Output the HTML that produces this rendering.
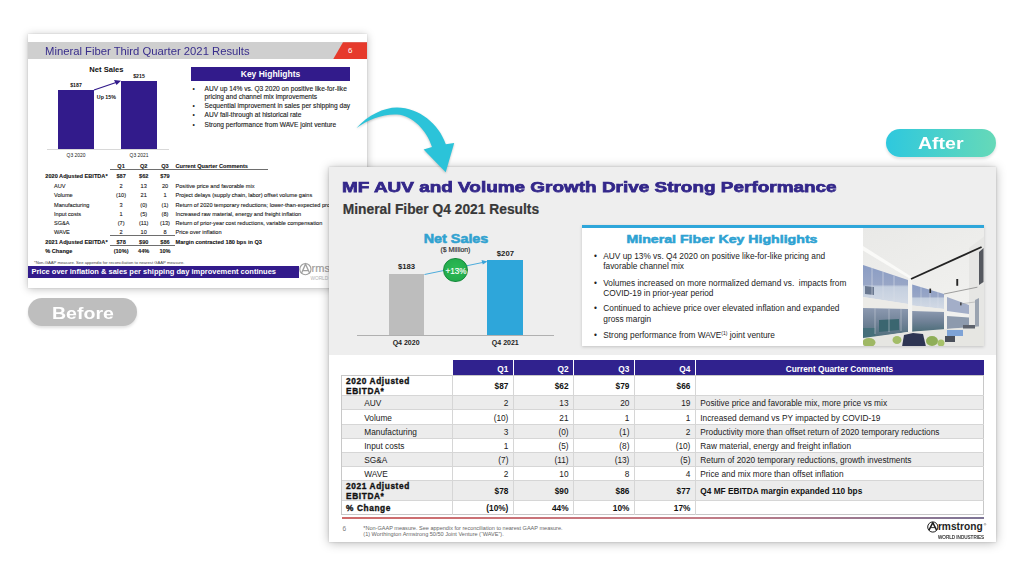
<!DOCTYPE html>
<html><head><meta charset="utf-8">
<style>
*{margin:0;padding:0;box-sizing:border-box}
html,body{width:1024px;height:576px;overflow:hidden;background:#fff;font-family:"Liberation Sans",sans-serif}
.abs{position:absolute}
#Lbg{left:28px;top:33.7px;width:339px;height:254.1px;background:#fff;box-shadow:0 0 1.5px rgba(0,0,0,.12),0 1px 8px rgba(0,0,0,.26)}
#L{left:28px;top:33px;width:339px;height:255px}
#R{left:328.6px;top:167.1px;width:667.2px;height:374.6px;background:#fff;box-shadow:0 0 2px rgba(0,0,0,.18),0 1px 10px rgba(0,0,0,.28)}
.t{position:absolute;white-space:nowrap;line-height:1}
.hl{position:absolute;left:164.5px;font-size:6.6px;line-height:1;color:#1a1a1a}
.hl2{position:absolute;left:176.6px;font-size:6.6px;line-height:1;color:#1a1a1a;white-space:nowrap;-webkit-text-stroke:0.12px #1a1a1a}
.tb{font-size:5.6px;color:#1a1a1a;-webkit-text-stroke:0.1px #1a1a1a}
.b{font-weight:bold;color:#111}
.rh{position:absolute;white-space:nowrap;line-height:1;font-size:8.3px;color:#222}
.rh sup{font-size:5px;vertical-align:3px;line-height:0}
.rt{position:absolute;white-space:nowrap;line-height:1;font-size:8.3px;color:#1a1a1a}
.rt0{position:absolute;white-space:nowrap;line-height:1;font-size:8.3px;color:#1a1a1a}
.rb{position:absolute;white-space:nowrap;line-height:1;font-size:8.3px;font-weight:bold;color:#111;letter-spacing:0.6px;-webkit-text-stroke:0.35px #111}
.b2{font-weight:bold;color:#111}
.w{color:#fff;font-weight:bold}
.lt{position:absolute;white-space:nowrap;line-height:1;font-size:5.6px;color:#1a1a1a;transform:translateX(-50%);-webkit-text-stroke:0.1px #1a1a1a}
</style></head><body>

<!-- LEFT (before) slide -->
<div id="Lbg" class="abs"></div>
<div id="L" class="abs">
  <div class="abs" style="left:0;top:9.2px;width:339px;height:17.2px;background:#cfcfcf"></div>
  <div class="abs" style="left:305px;top:9.2px;width:34px;height:17.2px;background:#e63a2c;clip-path:polygon(10px 0,100% 0,100% 100%,0 100%)"></div>
  <div class="t" style="left:16.7px;top:12.6px;font-size:11.5px;color:#382d8c;transform:scaleX(0.98);transform-origin:0 0">Mineral Fiber Third Quarter 2021 Results</div>
  <div class="t" style="left:320px;top:14px;font-size:7.9px;color:#fff">6</div>

  <!-- chart -->
  <div class="t" style="left:78.4px;top:32.8px;font-size:7.6px;font-weight:bold;color:#111;transform:translateX(-50%)">Net Sales</div>
  <div class="abs" style="left:18.5px;top:115.5px;width:122.5px;height:0.8px;background:#d8d8d8"></div>
  <div class="abs" style="left:30.3px;top:56.5px;width:35.6px;height:59px;background:#321b8b"></div>
  <div class="abs" style="left:93.1px;top:47.5px;width:35.6px;height:68px;background:#321b8b"></div>
  <div class="t" style="left:48px;top:49.7px;font-size:5.2px;font-weight:bold;color:#111;transform:translateX(-50%)">$187</div>
  <div class="t" style="left:111px;top:41.3px;font-size:5.2px;font-weight:bold;color:#111;transform:translateX(-50%)">$215</div>
  <div class="t" style="left:78.4px;top:62px;font-size:5.3px;font-weight:bold;color:#111;transform:translateX(-50%)">Up 15%</div>
  <svg class="abs" style="left:0;top:0" width="339" height="255"><line x1="66" y1="57" x2="88" y2="49.5" stroke="#321b8b" stroke-width="1.3"/><polygon points="93,47.8 86,47 88.5,52" fill="#321b8b"/></svg>
  <div class="t" style="left:48px;top:120.6px;font-size:4.9px;color:#222;transform:translateX(-50%)">Q3 2020</div>
  <div class="t" style="left:111px;top:120.6px;font-size:4.9px;color:#222;transform:translateX(-50%)">Q3 2021</div>
  <!-- highlights -->
  <div class="abs" style="left:163.4px;top:34px;width:158.2px;height:13.7px;background:#321b8b"></div>
  <div class="t" style="left:242.5px;top:37.3px;font-size:8.5px;font-weight:bold;color:#fff;transform:translateX(-50%)">Key Highlights</div>
  <div class="hl" style="top:52.6px">&bull;</div><div class="hl2" style="top:52.6px">AUV up 14% vs. Q3 2020 on positive like-for-like</div>
  <div class="hl2" style="top:60.5px">pricing and channel mix improvements</div>
  <div class="hl" style="top:69.8px">&bull;</div><div class="hl2" style="top:69.8px">Sequential improvement in sales per shipping day</div>
  <div class="hl" style="top:79.3px">&bull;</div><div class="hl2" style="top:79.3px">AUV fall-through at historical rate</div>
  <div class="hl" style="top:88.6px">&bull;</div><div class="hl2" style="top:88.6px">Strong performance from WAVE joint venture</div>
  <!-- table -->
  <div class="abs" style="left:82.2px;top:136px;width:158.3px;height:0.7px;background:#6e6e6e"></div>
  <div class="abs" style="left:82.2px;top:202px;width:64.8px;height:0.7px;background:#6e6e6e"></div>
  <div class="abs" style="left:82.2px;top:211.8px;width:64.8px;height:0.7px;background:#6e6e6e"></div>
  <div class="lt b" style="left:93.1px;top:131.3px">Q1</div><div class="lt b" style="left:115.7px;top:131.3px">Q2</div><div class="lt b" style="left:137px;top:131.3px">Q3</div>
  <div class="t tb b" style="left:147.5px;top:131.3px">Current Quarter Comments</div>
  <div class="t tb b" style="left:17.3px;top:140.8px">2020 Adjusted EBITDA*</div>
  <div class="lt b" style="left:93.1px;top:140.8px">$87</div>
  <div class="lt b" style="left:115.7px;top:140.8px">$62</div>
  <div class="lt b" style="left:137px;top:140.8px">$79</div>
  <div class="t tb" style="left:26px;top:150.9px">AUV</div>
  <div class="lt" style="left:93.1px;top:150.9px">2</div>
  <div class="lt" style="left:115.7px;top:150.9px">13</div>
  <div class="lt" style="left:137px;top:150.9px">20</div>
  <div class="t tb" style="left:147.5px;top:150.9px">Positive price and favorable mix</div>
  <div class="t tb" style="left:26px;top:160.3px">Volume</div>
  <div class="lt" style="left:93.1px;top:160.3px">(10)</div>
  <div class="lt" style="left:115.7px;top:160.3px">21</div>
  <div class="lt" style="left:137px;top:160.3px">1</div>
  <div class="t tb" style="left:147.5px;top:160.3px">Project delays (supply chain, labor) offset volume gains</div>
  <div class="t tb" style="left:26px;top:169.5px">Manufacturing</div>
  <div class="lt" style="left:93.1px;top:169.5px">3</div>
  <div class="lt" style="left:115.7px;top:169.5px">(0)</div>
  <div class="lt" style="left:137px;top:169.5px">(1)</div>
  <div class="t tb" style="left:147.5px;top:169.5px">Return of 2020 temporary reductions; lower-than-expected productivity</div>
  <div class="t tb" style="left:26px;top:179.0px">Input costs</div>
  <div class="lt" style="left:93.1px;top:179.0px">1</div>
  <div class="lt" style="left:115.7px;top:179.0px">(5)</div>
  <div class="lt" style="left:137px;top:179.0px">(8)</div>
  <div class="t tb" style="left:147.5px;top:179.0px">Increased raw material, energy and freight inflation</div>
  <div class="t tb" style="left:26px;top:188.0px">SG&amp;A</div>
  <div class="lt" style="left:93.1px;top:188.0px">(7)</div>
  <div class="lt" style="left:115.7px;top:188.0px">(11)</div>
  <div class="lt" style="left:137px;top:188.0px">(13)</div>
  <div class="t tb" style="left:147.5px;top:188.0px">Return of prior-year cost reductions, variable compensation</div>
  <div class="t tb" style="left:26px;top:197.3px">WAVE</div>
  <div class="lt" style="left:93.1px;top:197.3px">2</div>
  <div class="lt" style="left:115.7px;top:197.3px">10</div>
  <div class="lt" style="left:137px;top:197.3px">8</div>
  <div class="t tb" style="left:147.5px;top:197.3px">Price over inflation</div>
  <div class="t tb b" style="left:17.3px;top:206.8px">2021 Adjusted EBITDA*</div>
  <div class="lt b" style="left:93.1px;top:206.8px">$78</div>
  <div class="lt b" style="left:115.7px;top:206.8px">$90</div>
  <div class="lt b" style="left:137px;top:206.8px">$86</div>
  <div class="t tb b" style="left:147.5px;top:206.8px">Margin contracted 180 bps in Q3</div>
  <div class="t tb b" style="left:17.3px;top:215.8px">% Change</div>
  <div class="lt b" style="left:93.1px;top:215.8px">(10%)</div>
  <div class="lt b" style="left:115.7px;top:215.8px">44%</div>
  <div class="lt b" style="left:137px;top:215.8px">10%</div>
  <div class="t" style="left:6px;top:227.6px;font-size:4.2px;color:#444">*Non-GAAP measure. See appendix for reconciliation to nearest GAAP measure.</div>
  <div class="abs" style="left:0;top:232.6px;width:271px;height:12.2px;background:#321b8b"></div>
  <div class="t" style="left:3.4px;top:234.5px;font-size:7.5px;font-weight:bold;color:#fff">Price over inflation &amp; sales per shipping day improvement continues</div>
  <svg class="abs" style="left:0;top:0" width="339" height="255"><circle cx="277.4" cy="236.2" r="5.6" fill="none" stroke="#a0a0a0" stroke-width="1.1"/><path d="M273.4,240.6 L277.5,231.2 L281.8,240.6 M275.2,237.6 L280,237.6" fill="none" stroke="#a0a0a0" stroke-width="1.3"/></svg>
  <div class="t" style="left:283.6px;top:230.3px;font-size:11px;color:#a0a0a0;-webkit-text-stroke:0.2px #a0a0a0">rms</div>
  <div class="t" style="left:282.4px;top:243.8px;font-size:4.8px;color:#b4b4b4">WORLD</div>
</div>

<!-- RIGHT (after) slide -->
<div id="R" class="abs">
  <div class="abs" style="left:0;top:0;width:100%;height:187.5px;background:#eeeeee"></div>
  <div class="t" style="left:13.5px;top:12.2px;font-size:15.5px;font-weight:bold;color:#33278a;transform:scaleX(1.222);transform-origin:0 0;-webkit-text-stroke:0.75px #33278a">MF AUV and Volume Growth Drive Strong Performance</div>
  <div class="t" style="left:14.2px;top:35.7px;font-size:13.8px;font-weight:bold;color:#383838;-webkit-text-stroke:0.2px #383838">Mineral Fiber Q4 2021 Results</div>
  <div class="t" style="left:127.3px;top:65.8px;font-size:12.5px;font-weight:bold;color:#31a2d0;transform:translateX(-50%) scaleX(1.15);-webkit-text-stroke:0.55px #31a2d0">Net Sales</div>
  <div class="t" style="left:126.9px;top:80.2px;font-size:6.9px;color:#2a2a2a;transform:translateX(-50%);-webkit-text-stroke:0.15px #2a2a2a">($ Million)</div>
  <div class="abs" style="left:28.5px;top:167.70px;width:197px;height:1px;background:#b0b0b0"></div>
  <div class="abs" style="left:60.1px;top:107.10px;width:35.4px;height:60.80000000000001px;background:#bdbdbd"></div>
  <div class="abs" style="left:158.7px;top:92.90px;width:36.1px;height:75px;background:#2ea6da"></div>
  <div class="t" style="left:78.0px;top:95.70px;font-size:7.7px;font-weight:bold;color:#222;transform:translateX(-50%)">$183</div>
  <div class="t" style="left:176.8px;top:82.7px;font-size:7.7px;font-weight:bold;color:#222;transform:translateX(-50%)">$207</div>
  <svg class="abs" style="left:0;top:-0.6px" width="668" height="375"><line x1="95.5" y1="107.5" x2="154.5" y2="95.3" stroke="#3ba4d9" stroke-width="0.9"/><polygon points="158.5,94.5 152.5,93.1 153.8,97.5" fill="#3ba4d9"/></svg>
  <div class="abs" style="left:114.9px;top:90.6px;width:24.4px;height:24.4px;border-radius:50%;background:radial-gradient(circle at 50% 45%,#2dbb55,#1fa548);border:1.3px solid #188a3d"></div>
  <div class="t" style="left:127.4px;top:100.8px;font-size:8.2px;color:#fff;transform:translateX(-50%);-webkit-text-stroke:0.15px #fff">+13%</div>
  <div class="t" style="left:77.5px;top:172.20px;font-size:7px;font-weight:bold;color:#222;transform:translateX(-50%)">Q4 2020</div>
  <div class="t" style="left:176.7px;top:172.20px;font-size:7px;font-weight:bold;color:#222;transform:translateX(-50%)">Q4 2021</div>
  <div class="abs" style="left:253.3px;top:58.20px;width:402.5px;height:120.69999999999999px;background:#fff;box-shadow:0 1px 3px rgba(0,0,0,.18)"></div>
  <div class="abs" style="left:253.3px;top:58.20px;width:402.5px;height:2.4px;background:#2ea6da"></div>
  <div class="t" style="left:393.9px;top:66.1px;font-size:11.7px;font-weight:bold;color:#2ea2d2;transform:translateX(-50%) scaleX(1.21);-webkit-text-stroke:0.55px #2ea2d2">Mineral Fiber Key Highlights</div>
  <div class="rh" style="left:265.5px;top:84.80px">&bull;</div>
  <div class="rh" style="left:274.7px;top:84.80px">AUV up 13% vs. Q4 2020 on positive like-for-like pricing and</div>
  <div class="rh" style="left:274.7px;top:95.40px">favorable channel mix</div>
  <div class="rh" style="left:265.5px;top:111.50px">&bull;</div>
  <div class="rh" style="left:274.7px;top:111.50px">Volumes increased on more normalized demand vs.&nbsp; impacts from</div>
  <div class="rh" style="left:274.7px;top:121.60px">COVID-19 in prior-year period</div>
  <div class="rh" style="left:265.5px;top:137.40px">&bull;</div>
  <div class="rh" style="left:274.7px;top:137.40px">Continued to achieve price over elevated inflation and expanded</div>
  <div class="rh" style="left:274.7px;top:147.60px">gross margin</div>
  <div class="rh" style="left:265.5px;top:163.80px">&bull;</div>
  <div class="rh" style="left:274.7px;top:163.80px">Strong performance from WAVE<sup>(1)</sup> joint venture</div>
  <div id="photo" class="abs" style="left:534.4px;top:60.60px;width:121.39999999999998px;height:118.69999999999999px;overflow:hidden;background:#e8e8e6"><svg width="121.5" height="118.7" viewBox="0 0 121.5 118.7" style="position:absolute;left:0;top:0;filter:blur(0.35px)">
<defs>
<linearGradient id="ceil" x1="0" y1="0" x2="0.5" y2="1"><stop offset="0" stop-color="#e9e9e7"/><stop offset="1" stop-color="#f2f2f0"/></linearGradient>
<linearGradient id="wup" x1="0" y1="0" x2="0" y2="1"><stop offset="0" stop-color="#8a9cc4"/><stop offset="0.5" stop-color="#98a6c6"/><stop offset="0.56" stop-color="#c4cfdf"/><stop offset="1" stop-color="#d3dae5"/></linearGradient>
<linearGradient id="wlo" x1="0" y1="0" x2="0" y2="1"><stop offset="0" stop-color="#8c99b0"/><stop offset="0.5" stop-color="#6f8196"/><stop offset="1" stop-color="#4c6d78"/></linearGradient>
</defs>
<rect width="121.5" height="118.7" fill="url(#ceil)"/>
<polygon points="0,18 0,22.5 49,52 49,49" fill="#fafaf8"/>
<polygon points="0,37 45,52 45,76 0,69" fill="url(#wup)"/>
<polygon points="2,58 11,59 11,67 2,66" fill="#6a7890"/>
<g stroke="#d8dee8" stroke-width="0.6"><line x1="9" y1="40" x2="9" y2="70"/><line x1="20" y1="43.5" x2="20" y2="71.5"/><line x1="31" y1="47.5" x2="31" y2="73"/></g>
<polygon points="0,69 45,76 45,81 0,80" fill="#ecebe7"/>
<polygon points="0,80 45,81 45,104 0,111" fill="url(#wlo)"/>
<polygon points="16,92 36,91 36,102 16,104" fill="#3b6670"/>
<polygon points="0,100 12,100 12,110 0,111" fill="#456f7a"/>
<g stroke="#c3cad4" stroke-width="0.6"><line x1="12" y1="80" x2="12" y2="106"/><line x1="26" y1="80.5" x2="26" y2="104"/><line x1="38" y1="81" x2="38" y2="103"/></g>
<rect x="45" y="50" width="4.2" height="56" fill="#f3f3f1"/>
<polygon points="49.2,56.4 81,66 81,81 49.2,77.5" fill="url(#wup)"/>
<g stroke="#d8dee8" stroke-width="0.5"><line x1="58" y1="59" x2="58" y2="78.5"/><line x1="67" y1="62" x2="67" y2="79.5"/><line x1="75" y1="64" x2="75" y2="80.5"/></g>
<polygon points="49.2,77.5 81,81 81,84 49.2,83" fill="#ecebe7"/>
<polygon points="49.2,83 81,84 81,102 49.2,104" fill="url(#wlo)"/>
<rect x="81" y="65" width="3" height="38" fill="#efefed"/>
<polygon points="84,69 106,77 106,86 84,83" fill="#a3aec8"/>
<polygon points="84,88 106,89.5 106,100 84,101" fill="#8d9aad"/>
<polygon points="106,20 121.5,8 121.5,118.7 106,118.7" fill="#e6e6e4"/>
<polygon points="116,24 120.5,20 120.5,54 116,57" fill="#55585f"/>
<polygon points="112,72 116,70 116,100 112,102" fill="#9aa3b0"/>
<line x1="48" y1="51" x2="118.6" y2="19" stroke="#232323" stroke-width="1.9"/>
<line x1="81" y1="66" x2="114.4" y2="59.2" stroke="#7a7a7a" stroke-width="0.7"/>
<line x1="97" y1="76" x2="112" y2="74" stroke="#9a9a9a" stroke-width="0.5"/>
<rect x="66.4" y="60.6" width="1.7" height="4.4" fill="#262626"/>
<rect x="93.3" y="51" width="1.9" height="6.8" fill="#262626"/>
<rect x="97.2" y="74.4" width="1.3" height="3" fill="#333"/>
<polygon points="0,110 45,104 121.5,98 121.5,118.7 0,118.7" fill="#e6e6e2"/>
<ellipse cx="6" cy="114.5" rx="6.5" ry="4.5" fill="#9fb865"/>
<ellipse cx="34" cy="112" rx="4.5" ry="4" fill="#a3bd68"/>
<path d="M39,118.7 L41,107 L50,105 L60,106 L63,118.7 Z" fill="#2e3553"/>
<ellipse cx="69" cy="113" rx="6" ry="5" fill="#8fae58"/>
<ellipse cx="78" cy="115" rx="3.5" ry="3.5" fill="#a7c26a"/>
<rect x="84" y="102" width="16" height="6" fill="#7ea3d6"/>
<rect x="82" y="108" width="10" height="6" fill="#4a4f5a"/>
<rect x="100" y="97" width="12" height="3.5" fill="#5d626c"/>
</svg></div>
  <div class="abs" style="left:124.3px;top:193.40px;width:531.2px;height:14.800000000000011px;background:#30228e"></div>
  <div class="abs" style="left:184.6px;top:193.40px;width:1px;height:14.800000000000011px;background:#fff"></div>
  <div class="abs" style="left:244.8px;top:193.40px;width:1px;height:14.800000000000011px;background:#fff"></div>
  <div class="abs" style="left:305.6px;top:193.40px;width:1px;height:14.800000000000011px;background:#fff"></div>
  <div class="abs" style="left:366.6px;top:193.40px;width:1px;height:14.800000000000011px;background:#fff"></div>
  <div class="abs" style="left:13.1px;top:208.20px;width:642.4px;height:20.30px;background:#fff"></div>
  <div class="abs" style="left:13.1px;top:228.50px;width:642.4px;height:14.40px;background:#ececec"></div>
  <div class="abs" style="left:13.1px;top:242.90px;width:642.4px;height:14.20px;background:#fff"></div>
  <div class="abs" style="left:13.1px;top:257.10px;width:642.4px;height:14.60px;background:#ececec"></div>
  <div class="abs" style="left:13.1px;top:271.70px;width:642.4px;height:14.00px;background:#fff"></div>
  <div class="abs" style="left:13.1px;top:285.70px;width:642.4px;height:14.20px;background:#ececec"></div>
  <div class="abs" style="left:13.1px;top:299.90px;width:642.4px;height:13.50px;background:#fff"></div>
  <div class="abs" style="left:13.1px;top:313.40px;width:642.4px;height:20.30px;background:#ececec"></div>
  <div class="abs" style="left:13.1px;top:333.70px;width:642.4px;height:13.80px;background:#fff"></div>
  <div class="abs" style="left:12.7px;top:207.7px;width:642.8px;height:139.8px;border:1px solid #c8c8c8"></div>
  <div class="abs" style="left:13.1px;top:228.00px;width:642.4px;height:1px;background:#d6d6d6"></div>
  <div class="abs" style="left:13.1px;top:242.40px;width:642.4px;height:1px;background:#d6d6d6"></div>
  <div class="abs" style="left:13.1px;top:256.60px;width:642.4px;height:1px;background:#d6d6d6"></div>
  <div class="abs" style="left:13.1px;top:271.20px;width:642.4px;height:1px;background:#d6d6d6"></div>
  <div class="abs" style="left:13.1px;top:285.20px;width:642.4px;height:1px;background:#d6d6d6"></div>
  <div class="abs" style="left:13.1px;top:299.40px;width:642.4px;height:1px;background:#d6d6d6"></div>
  <div class="abs" style="left:13.1px;top:312.90px;width:642.4px;height:1px;background:#d6d6d6"></div>
  <div class="abs" style="left:13.1px;top:333.20px;width:642.4px;height:1px;background:#d6d6d6"></div>
  <div class="abs" style="left:123.8px;top:208.20px;width:1px;height:139.30px;background:#d6d6d6"></div>
  <div class="abs" style="left:184.6px;top:208.20px;width:1px;height:139.30px;background:#d6d6d6"></div>
  <div class="abs" style="left:244.8px;top:208.20px;width:1px;height:139.30px;background:#d6d6d6"></div>
  <div class="abs" style="left:305.6px;top:208.20px;width:1px;height:139.30px;background:#d6d6d6"></div>
  <div class="abs" style="left:366.6px;top:208.20px;width:1px;height:139.30px;background:#d6d6d6"></div>
  <div class="rt w" style="right:487.40px;top:197.60px">Q1</div>
  <div class="rt w" style="right:427.20px;top:197.60px">Q2</div>
  <div class="rt w" style="right:366.40px;top:197.60px">Q3</div>
  <div class="rt w" style="right:305.40px;top:197.60px">Q4</div>
  <div class="t w" style="left:510.8px;top:197.60px;font-size:8.3px;font-weight:bold;transform:translateX(-50%)">Current Quarter Comments</div>
  <div class="rb" style="left:17.5px;top:209.05px;line-height:10px">2020 Adjusted<br>EBITDA*</div>
  <div class="rt b2" style="right:487.40px;top:214.85px">$87</div>
  <div class="rt b2" style="right:427.20px;top:214.85px">$62</div>
  <div class="rt b2" style="right:366.40px;top:214.85px">$79</div>
  <div class="rt b2" style="right:305.40px;top:214.85px">$66</div>
  <div class="rt0" style="left:35.7px;top:232.20px">AUV</div>
  <div class="rt" style="right:487.40px;top:232.20px">2</div>
  <div class="rt" style="right:427.20px;top:232.20px">13</div>
  <div class="rt" style="right:366.40px;top:232.20px">20</div>
  <div class="rt" style="right:305.40px;top:232.20px">19</div>
  <div class="rt0" style="left:371.7px;top:232.20px">Positive price and favorable mix, more price vs mix</div>
  <div class="rt0" style="left:35.7px;top:246.50px">Volume</div>
  <div class="rt" style="right:487.40px;top:246.50px">(10)</div>
  <div class="rt" style="right:427.20px;top:246.50px">21</div>
  <div class="rt" style="right:366.40px;top:246.50px">1</div>
  <div class="rt" style="right:305.40px;top:246.50px">1</div>
  <div class="rt0" style="left:371.7px;top:246.50px">Increased demand vs PY impacted by COVID-19</div>
  <div class="rt0" style="left:35.7px;top:260.90px">Manufacturing</div>
  <div class="rt" style="right:487.40px;top:260.90px">3</div>
  <div class="rt" style="right:427.20px;top:260.90px">(0)</div>
  <div class="rt" style="right:366.40px;top:260.90px">(1)</div>
  <div class="rt" style="right:305.40px;top:260.90px">2</div>
  <div class="rt0" style="left:371.7px;top:260.90px">Productivity more than offset return of 2020 temporary reductions</div>
  <div class="rt0" style="left:35.7px;top:275.20px">Input costs</div>
  <div class="rt" style="right:487.40px;top:275.20px">1</div>
  <div class="rt" style="right:427.20px;top:275.20px">(5)</div>
  <div class="rt" style="right:366.40px;top:275.20px">(8)</div>
  <div class="rt" style="right:305.40px;top:275.20px">(10)</div>
  <div class="rt0" style="left:371.7px;top:275.20px">Raw material, energy and freight inflation</div>
  <div class="rt0" style="left:35.7px;top:289.30px">SG&amp;A</div>
  <div class="rt" style="right:487.40px;top:289.30px">(7)</div>
  <div class="rt" style="right:427.20px;top:289.30px">(11)</div>
  <div class="rt" style="right:366.40px;top:289.30px">(13)</div>
  <div class="rt" style="right:305.40px;top:289.30px">(5)</div>
  <div class="rt0" style="left:371.7px;top:289.30px">Return of 2020 temporary reductions, growth investments</div>
  <div class="rt0" style="left:35.7px;top:303.15px">WAVE</div>
  <div class="rt" style="right:487.40px;top:303.15px">2</div>
  <div class="rt" style="right:427.20px;top:303.15px">10</div>
  <div class="rt" style="right:366.40px;top:303.15px">8</div>
  <div class="rt" style="right:305.40px;top:303.15px">4</div>
  <div class="rt0" style="left:371.7px;top:303.15px">Price and mix more than offset inflation</div>
  <div class="rb" style="left:17.5px;top:314.25px;line-height:10px">2021 Adjusted<br>EBITDA*</div>
  <div class="rt b2" style="right:487.40px;top:320.05px">$78</div>
  <div class="rt b2" style="right:427.20px;top:320.05px">$90</div>
  <div class="rt b2" style="right:366.40px;top:320.05px">$86</div>
  <div class="rt b2" style="right:305.40px;top:320.05px">$77</div>
  <div class="rt0 b2" style="left:371.7px;top:320.05px">Q4 MF EBITDA margin expanded 110 bps</div>
  <div class="rb" style="left:17.5px;top:336.80px">% Change</div>
  <div class="rt b2" style="right:487.40px;top:337.10px">(10%)</div>
  <div class="rt b2" style="right:427.20px;top:337.10px">44%</div>
  <div class="rt b2" style="right:366.40px;top:337.10px">10%</div>
  <div class="rt b2" style="right:305.40px;top:337.10px">17%</div>
  <div class="abs" style="left:13.1px;top:349.90px;width:642.4px;height:1.6px;background:linear-gradient(90deg,#cf6b6b,#c47c86 55%,#7d7596)"></div>
  <div class="t" style="left:13.8px;top:359.4px;font-size:6.6px;color:#808080">6</div>
  <div class="t" style="left:34.7px;top:357.60px;font-size:5.56px;color:#666;line-height:6.8px">*Non-GAAP measure. See appendix for reconciliation to nearest GAAP measure.<br>(1) Worthington Armstrong 50/50 Joint Venture (&ldquo;WAVE&rdquo;).</div>
  
</div>


<!-- arrow -->
<svg class="abs" style="left:0;top:0;filter:drop-shadow(0.8px 1.8px 1.2px rgba(0,0,0,.22))" width="1024" height="576">
<path d="M356.5,128 C368,115 384,107.5 397,107.5 C419,107.5 439,124 445.8,144.3 L454.2,143 L445.7,172.3 L423.6,149.5 L432,146.9 C427,131 413,115.5 397,114.5 C383,113.8 368,119.5 356.5,128 Z" fill="#2bc3d9"/>
</svg>
<!-- right logo -->
<svg class="abs" style="left:0;top:0" width="1024" height="576">
<circle cx="932.8" cy="527" r="5.1" fill="none" stroke="#1f1f1f" stroke-width="1"/>
<path d="M928.9,530.4 L932.8,522.6 L936.7,530.4" fill="none" stroke="#1f1f1f" stroke-width="1.5" stroke-linejoin="round"/>
<path d="M930.6,527.6 L935,527.6" stroke="#1f1f1f" stroke-width="0.9"/>
<circle cx="985" cy="524.3" r="0.9" fill="none" stroke="#555" stroke-width="0.4"/>
</svg>
<div class="t" style="left:937.9px;top:522.1px;font-size:10.2px;font-weight:bold;color:#1f1f1f">rmstrong</div>
<div class="t" style="left:937.6px;top:534.5px;font-size:5.1px;color:#2a2a2a;transform:scaleX(0.9);transform-origin:0 0;-webkit-text-stroke:0.15px #2a2a2a">WORLD INDUSTRIES</div>

<!-- labels -->
<div class="abs" style="left:28.3px;top:298.3px;width:108.3px;height:27.8px;border-radius:14px;background:#bebebe;box-shadow:0 2px 3px rgba(0,0,0,.12)"></div>
<div class="t" style="left:51.5px;top:305.8px;font-size:16px;font-weight:bold;color:#fff;transform:scaleX(1.22);transform-origin:0 0">Before</div>
<div class="abs" style="left:886.4px;top:128.5px;width:109.5px;height:28.7px;border-radius:14.5px;background:linear-gradient(90deg,#2ec8de,#66d9b8);box-shadow:0 2px 3px rgba(0,0,0,.12)"></div>
<div class="t" style="left:918px;top:136.3px;font-size:16px;font-weight:bold;color:#fff;transform:scaleX(1.22);transform-origin:0 0">After</div>

</body></html>
